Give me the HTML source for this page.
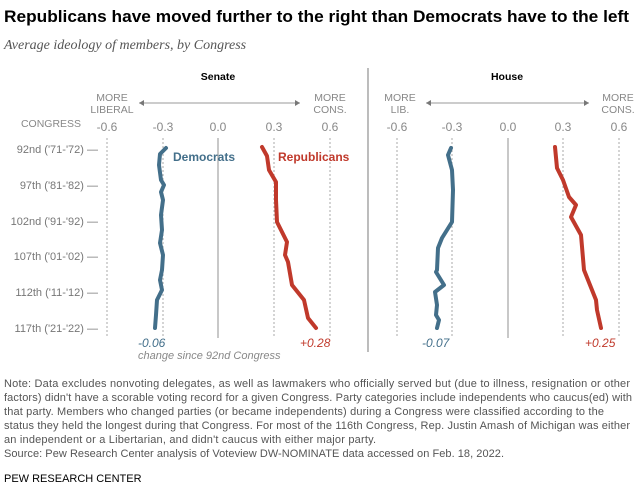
<!DOCTYPE html><html><head><meta charset="utf-8"><style>
body{margin:0;width:640px;height:499px;background:#fff;font-family:"Liberation Sans",sans-serif;overflow:hidden}
</style></head><body>
<svg width="640" height="499" xmlns="http://www.w3.org/2000/svg" font-family="Liberation Sans, sans-serif">
<text x="4" y="22" font-size="17" font-weight="bold" fill="#000" textLength="625" lengthAdjust="spacingAndGlyphs">Republicans have moved further to the right than Democrats have to the left</text>
<text x="4" y="49" font-size="14" font-style="italic" fill="#555" font-family="Liberation Serif, serif">Average ideology of members, by Congress</text>
<g font-size="10.5" fill="#888">
<text x="218" y="80" text-anchor="middle" font-weight="bold" fill="#000">Senate</text>
<text x="507" y="80" text-anchor="middle" font-weight="bold" fill="#000">House</text>
<text x="112" y="101" text-anchor="middle">MORE</text><text x="112" y="113" text-anchor="middle">LIBERAL</text>
<text x="330" y="101" text-anchor="middle">MORE</text><text x="330" y="113" text-anchor="middle">CONS.</text>
<text x="400" y="101" text-anchor="middle">MORE</text><text x="400" y="113" text-anchor="middle">LIB.</text>
<text x="618" y="101" text-anchor="middle">MORE</text><text x="618" y="113" text-anchor="middle">CONS.</text>
<text x="51" y="127" text-anchor="middle">CONGRESS</text>
<g font-size="12" text-anchor="middle">
<text x="107" y="131">-0.6</text><text x="163" y="131">-0.3</text><text x="218" y="131">0.0</text><text x="274" y="131">0.3</text><text x="330" y="131">0.6</text>
<text x="397" y="131">-0.6</text><text x="452" y="131">-0.3</text><text x="508" y="131">0.0</text><text x="563" y="131">0.3</text><text x="619" y="131">0.6</text>
</g>
<g font-size="11" text-anchor="end" fill="#777">
<text x="98" y="153">92nd ('71-'72) —</text>
<text x="98" y="189">97th ('81-'82) —</text>
<text x="98" y="225">102nd ('91-'92) —</text>
<text x="98" y="260">107th ('01-'02) —</text>
<text x="98" y="296">112th ('11-'12) —</text>
<text x="98" y="332">117th ('21-'22) —</text>
</g>
</g>
<g stroke="#777" stroke-width="0.8">
<line x1="139" y1="103" x2="300" y2="103"/><line x1="426" y1="103" x2="589" y2="103"/>
</g>
<g fill="#777"><path d="M139 103l5-3v6z"/><path d="M300 103l-5-3v6z"/><path d="M426 103l5-3v6z"/><path d="M589 103l-5-3v6z"/></g>
<g stroke="#aaa" stroke-width="1" stroke-dasharray="2,2">
<line x1="107" y1="138" x2="107" y2="338"/><line x1="163" y1="138" x2="163" y2="338"/><line x1="274" y1="138" x2="274" y2="338"/><line x1="330" y1="138" x2="330" y2="338"/>
<line x1="397" y1="138" x2="397" y2="338"/><line x1="452" y1="138" x2="452" y2="338"/><line x1="563" y1="138" x2="563" y2="338"/><line x1="619" y1="138" x2="619" y2="338"/>
</g>
<g stroke="#aaa" stroke-width="1.3"><line x1="218" y1="138" x2="218" y2="338"/><line x1="508" y1="138" x2="508" y2="338"/><line x1="368" y1="68" x2="368" y2="352" stroke="#999"/></g>
<g fill="none" stroke-width="4" stroke-linejoin="round" stroke-linecap="round">
<polyline stroke="#436f8a" points="166,148 160,154 159,165 161,180 164,185 161,192 163,200 161,215 162,230 160,243 163,255 162,270 160,280 162,290 157,300 156,315 155,328"/>
<polyline stroke="#c0392b" points="262,147 267,156 269,170 276,182 276,200 277,222 284,236 287,242 285,255 288,262 292,285 304,300 308,318 316,328"/>
<polyline stroke="#436f8a" points="451,148 448,155 452,170 453,190 452,222 442,238 438,248 437,270 436,272 444,285 435,292 437,305 436,315 439,320 437,328"/>
<polyline stroke="#c0392b" points="555,147 557,168 563,180 569,197 576,205 571,217 581,235 584,270 596,300 597,310 601,328"/>
</g>
<text x="173" y="161" font-size="12" font-weight="bold" fill="#436f8a">Democrats</text>
<text x="278" y="161" font-size="12" font-weight="bold" fill="#c0392b">Republicans</text>
<g font-size="12" font-style="italic">
<text x="138" y="347" fill="#436f8a">-0.06</text>
<text x="300" y="347" fill="#c0392b">+0.28</text>
<text x="422" y="347" fill="#436f8a">-0.07</text>
<text x="585" y="347" fill="#c0392b">+0.25</text>
<text x="138" y="359" font-size="11" fill="#888">change since 92nd Congress</text>
</g>
<g font-size="11" fill="#555" lengthAdjust="spacingAndGlyphs">
<text x="4" y="387" textLength="626">Note: Data excludes nonvoting delegates, as well as lawmakers who officially served but (due to illness, resignation or other</text>
<text x="4" y="401" textLength="628">factors) didn't have a scorable voting record for a given Congress. Party categories include independents who caucus(ed) with</text>
<text x="4" y="415" textLength="600">that party. Members who changed parties (or became independents) during a Congress were classified according to the</text>
<text x="4" y="429" textLength="626">status they held the longest during that Congress. For most of the 116th Congress, Rep. Justin Amash of Michigan was either</text>
<text x="4" y="443" textLength="372">an independent or a Libertarian, and didn't caucus with either major party.</text>
<text x="4" y="457" textLength="500">Source: Pew Research Center analysis of Voteview DW-NOMINATE data accessed on Feb. 18, 2022.</text>
<text x="4" y="482" font-size="11" fill="#000">PEW RESEARCH CENTER</text>
</g>
</svg>
</body></html>
